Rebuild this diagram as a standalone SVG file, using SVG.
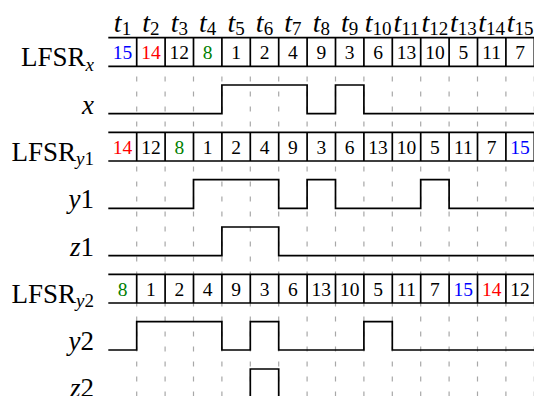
<svg xmlns="http://www.w3.org/2000/svg" width="534" height="396" viewBox="0 0 534 396">
<style>
text{font-family:"Liberation Serif","DejaVu Serif",serif;fill:#000}
.lab{font-size:27px;text-anchor:end}
.it{font-style:italic}
.sub{font-size:19px}
.t{font-size:28px;text-anchor:middle}
.n{font-size:19.5px;text-anchor:middle}
.b{fill:#0000ff}.r{fill:#ff0000}.g{fill:#008000}
.grid{stroke:#a8a8a8;stroke-width:1.2;stroke-dasharray:5 10;stroke-dashoffset:5;fill:none}
.box{stroke:#000;stroke-width:1.7;fill:none}
.wave{stroke:#000;stroke-width:1.7;fill:none;stroke-linejoin:miter}
</style>
<rect width="534" height="396" fill="#fff"/>
<g id="gridlines" class="grid">
<path d="M136.7,66.6V400M165.1,66.6V400M193.5,66.6V400M221.9,66.6V400M250.3,66.6V400M278.7,66.6V400M307.1,66.6V400M335.5,66.6V400M363.9,66.6V400M392.3,66.6V400M420.7,66.6V400M449.1,66.6V400M477.5,66.6V400M505.9,66.6V400M534.3,66.6V400"/>
</g>
<g id="time-labels">
<text class="t" x="122.5" y="31.5"><tspan class="it">t</tspan><tspan class="sub" dy="3.5">1</tspan></text>
<text class="t" x="150.9" y="31.5"><tspan class="it">t</tspan><tspan class="sub" dy="3.5">2</tspan></text>
<text class="t" x="179.3" y="31.5"><tspan class="it">t</tspan><tspan class="sub" dy="3.5">3</tspan></text>
<text class="t" x="207.7" y="31.5"><tspan class="it">t</tspan><tspan class="sub" dy="3.5">4</tspan></text>
<text class="t" x="236.1" y="31.5"><tspan class="it">t</tspan><tspan class="sub" dy="3.5">5</tspan></text>
<text class="t" x="264.5" y="31.5"><tspan class="it">t</tspan><tspan class="sub" dy="3.5">6</tspan></text>
<text class="t" x="292.9" y="31.5"><tspan class="it">t</tspan><tspan class="sub" dy="3.5">7</tspan></text>
<text class="t" x="321.3" y="31.5"><tspan class="it">t</tspan><tspan class="sub" dy="3.5">8</tspan></text>
<text class="t" x="349.7" y="31.5"><tspan class="it">t</tspan><tspan class="sub" dy="3.5">9</tspan></text>
<text class="t" x="378.1" y="31.5"><tspan class="it">t</tspan><tspan class="sub" dy="3.5">10</tspan></text>
<text class="t" x="406.5" y="31.5"><tspan class="it">t</tspan><tspan class="sub" dy="3.5">11</tspan></text>
<text class="t" x="434.9" y="31.5"><tspan class="it">t</tspan><tspan class="sub" dy="3.5">12</tspan></text>
<text class="t" x="463.3" y="31.5"><tspan class="it">t</tspan><tspan class="sub" dy="3.5">13</tspan></text>
<text class="t" x="491.7" y="31.5"><tspan class="it">t</tspan><tspan class="sub" dy="3.5">14</tspan></text>
<text class="t" x="520.1" y="31.5"><tspan class="it">t</tspan><tspan class="sub" dy="3.5">15</tspan></text>
</g>
<g id="lfsr-x">
<rect x="108.3" y="37.7" width="430" height="28.6" fill="#fff"/>
<path class="box" d="M108.3,37.7H540M108.3,66.3H540M136.7,37.7V66.3M165.1,37.7V66.3M193.5,37.7V66.3M221.9,37.7V66.3M250.3,37.7V66.3M278.7,37.7V66.3M307.1,37.7V66.3M335.5,37.7V66.3M363.9,37.7V66.3M392.3,37.7V66.3M420.7,37.7V66.3M449.1,37.7V66.3M477.5,37.7V66.3M505.9,37.7V66.3M534.3,37.7V66.3"/>
<text class="lab" x="94" y="66">LFSR<tspan class="sub it" dy="4.5">x</tspan></text>
<text class="n b" x="122.5" y="59.2">15</text>
<text class="n r" x="150.9" y="59.2">14</text>
<text class="n" x="179.3" y="59.2">12</text>
<text class="n g" x="207.7" y="59.2">8</text>
<text class="n" x="236.1" y="59.2">1</text>
<text class="n" x="264.5" y="59.2">2</text>
<text class="n" x="292.9" y="59.2">4</text>
<text class="n" x="321.3" y="59.2">9</text>
<text class="n" x="349.7" y="59.2">3</text>
<text class="n" x="378.1" y="59.2">6</text>
<text class="n" x="406.5" y="59.2">13</text>
<text class="n" x="434.9" y="59.2">10</text>
<text class="n" x="463.3" y="59.2">5</text>
<text class="n" x="491.7" y="59.2">11</text>
<text class="n" x="520.1" y="59.2">7</text>
</g>
<g id="wave-x">
<path class="wave" d="M108.3,113.6H221.9V85.0H307.1V113.6H335.5V85.0H363.9V113.6H540"/>
<text class="lab it" x="94" y="113.6">x</text>
</g>
<g id="lfsr-y1">
<rect x="108.3" y="132.4" width="430" height="28.6" fill="#fff"/>
<path class="box" d="M108.3,132.4H540M108.3,161.0H540M136.7,132.4V161M165.1,132.4V161M193.5,132.4V161M221.9,132.4V161M250.3,132.4V161M278.7,132.4V161M307.1,132.4V161M335.5,132.4V161M363.9,132.4V161M392.3,132.4V161M420.7,132.4V161M449.1,132.4V161M477.5,132.4V161M505.9,132.4V161M534.3,132.4V161"/>
<text class="lab" x="94" y="160.7">LFSR<tspan class="sub it" dy="4.5">y</tspan><tspan class="sub">1</tspan></text>
<text class="n r" x="122.5" y="153.9">14</text>
<text class="n" x="150.9" y="153.9">12</text>
<text class="n g" x="179.3" y="153.9">8</text>
<text class="n" x="207.7" y="153.9">1</text>
<text class="n" x="236.1" y="153.9">2</text>
<text class="n" x="264.5" y="153.9">4</text>
<text class="n" x="292.9" y="153.9">9</text>
<text class="n" x="321.3" y="153.9">3</text>
<text class="n" x="349.7" y="153.9">6</text>
<text class="n" x="378.1" y="153.9">13</text>
<text class="n" x="406.5" y="153.9">10</text>
<text class="n" x="434.9" y="153.9">5</text>
<text class="n" x="463.3" y="153.9">11</text>
<text class="n" x="491.7" y="153.9">7</text>
<text class="n b" x="520.1" y="153.9">15</text>
</g>
<g id="wave-y1">
<path class="wave" d="M108.3,208.3H193.5V179.7H278.7V208.3H307.1V179.7H335.5V208.3H420.7V179.7H449.1V208.3H540"/>
<text class="lab" x="94" y="208.3"><tspan class="it">y</tspan>1</text>
</g>
<g id="wave-z1">
<path class="wave" d="M108.3,255.6H221.9V227.0H278.7V255.6H540"/>
<text class="lab" x="94" y="255.6"><tspan class="it">z</tspan>1</text>
</g>
<g id="lfsr-y2">
<rect x="108.3" y="274.4" width="430" height="28.6" fill="#fff"/>
<path class="box" d="M108.3,274.4H540M108.3,303.0H540M136.7,274.4V303M165.1,274.4V303M193.5,274.4V303M221.9,274.4V303M250.3,274.4V303M278.7,274.4V303M307.1,274.4V303M335.5,274.4V303M363.9,274.4V303M392.3,274.4V303M420.7,274.4V303M449.1,274.4V303M477.5,274.4V303M505.9,274.4V303M534.3,274.4V303"/>
<text class="lab" x="94" y="302.7">LFSR<tspan class="sub it" dy="4.5">y</tspan><tspan class="sub">2</tspan></text>
<text class="n g" x="122.5" y="295.9">8</text>
<text class="n" x="150.9" y="295.9">1</text>
<text class="n" x="179.3" y="295.9">2</text>
<text class="n" x="207.7" y="295.9">4</text>
<text class="n" x="236.1" y="295.9">9</text>
<text class="n" x="264.5" y="295.9">3</text>
<text class="n" x="292.9" y="295.9">6</text>
<text class="n" x="321.3" y="295.9">13</text>
<text class="n" x="349.7" y="295.9">10</text>
<text class="n" x="378.1" y="295.9">5</text>
<text class="n" x="406.5" y="295.9">11</text>
<text class="n" x="434.9" y="295.9">7</text>
<text class="n b" x="463.3" y="295.9">15</text>
<text class="n r" x="491.7" y="295.9">14</text>
<text class="n" x="520.1" y="295.9">12</text>
</g>
<g id="wave-y2">
<path class="wave" d="M108.3,350.0H136.7V321.7H221.9V350.0H250.3V321.7H278.7V350.0H363.9V321.7H392.3V350.0H540"/>
<text class="lab" x="94" y="350"><tspan class="it">y</tspan>2</text>
</g>
<g id="wave-z2">
<path class="wave" d="M108.3,397.6H250.3V369.0H278.7V397.6H540"/>
<text class="lab" x="94" y="397.3"><tspan class="it">z</tspan>2</text>
</g>
</svg>
